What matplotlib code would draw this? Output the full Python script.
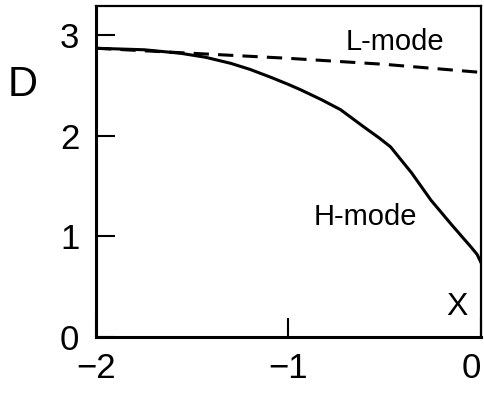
import numpy as np
import matplotlib
matplotlib.use('Agg')
import matplotlib.pyplot as plt

plt.rcParams['font.family'] = ['Liberation Sans', 'DejaVu Sans']
plt.rcParams['axes.unicode_minus'] = True

# profiles read along x (normalised radius)
x_h = [-2.0, -1.75, -1.56, -1.43, -1.3, -1.2, -1.09, -1.0, -0.94, -0.83, -0.73,
       -0.61, -0.53, -0.47, -0.36, -0.26, -0.15, -0.05, -0.02, 0.0]
d_h = [2.87, 2.855, 2.82, 2.78, 2.72, 2.66, 2.58, 2.51, 2.46, 2.36, 2.26,
       2.09, 1.98, 1.89, 1.63, 1.36, 1.11, 0.89, 0.82, 0.74]

x_l = [-2.0, -1.5, -1.0, -0.5, 0.0]
d_l = [2.87, 2.82, 2.77, 2.71, 2.63]

xticks = [-2, -1, 0]
yticks = [0, 1, 2, 3]

fig = plt.figure(figsize=(4.85, 3.96), dpi=100)
ax = fig.add_axes([96/485, 59/396, 385/485, 331/396])

ax.plot(x_h, d_h, color='black', lw=2.2, solid_joinstyle='round')
ax.plot(x_l, d_l, color='black', lw=2.2, dashes=(5, 3))

ax.set_xlim(-2, 0)
ax.set_ylim(0, 3.29)
ax.set_xticks(xticks)
ax.set_yticks(yticks)
ax.set_xticklabels(['\u22122', '\u22121', '0'])
ax.tick_params(direction='in', length=13.5, width=1.5, labelsize=25, pad=11)
ax.tick_params(axis='y', pad=12)
# keep the last x label inside the figure
ax.get_xticklabels()[-1].set_horizontalalignment('right')

for side in ['left', 'bottom']:
    ax.spines[side].set_linewidth(2.2)
for side in ['top', 'right']:
    ax.spines[side].set_linewidth(1.6)

ax.text(-0.703, 2.85, 'L-mode', fontsize=21, ha='left', va='baseline')
ax.text(-0.870, 1.11, 'H-mode', fontsize=21, ha='left', va='baseline')
ax.text(-0.125, 0.30, 'X', fontsize=23, ha='center', va='center')
fig.text(0.047, 0.785, 'D', fontsize=30, ha='center', va='center')

fig.savefig('out.png', dpi=100)
